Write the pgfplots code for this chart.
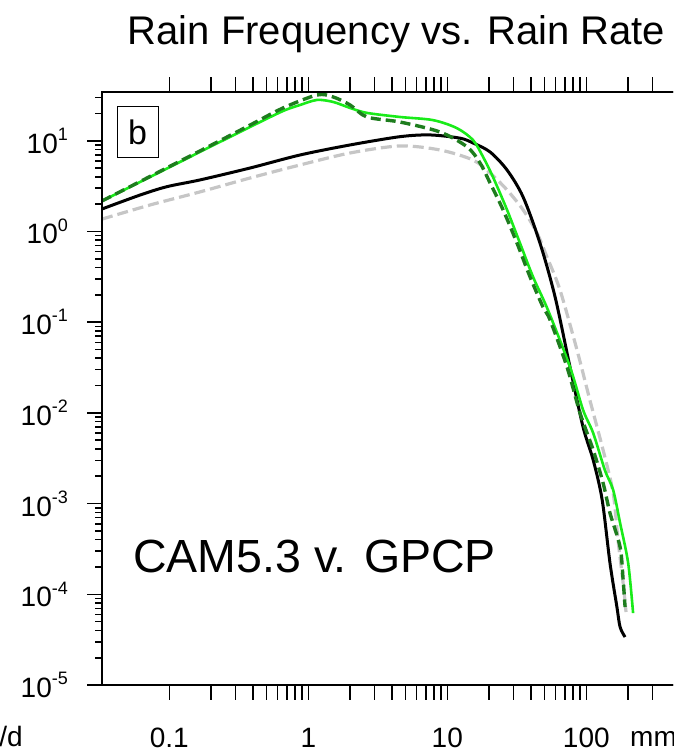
\documentclass[border=0pt]{standalone}
\usepackage{fontspec}
\setmainfont{Liberation Sans}
\usepackage{pgfplots}
\pgfplotsset{compat=1.18}
\definecolor{lgreen}{RGB}{25,235,25}
\definecolor{dgreen}{RGB}{30,125,30}
\definecolor{lgray}{RGB}{198,198,198}
\newcommand{\tickfont}{\fontsize{28}{30}\selectfont}
\newcommand{\supn}[1]{\raisebox{0.45em}{\fontsize{18}{18}\selectfont #1}}

\begin{document}
\begin{tikzpicture}
\useasboundingbox (0pt,0pt) rectangle (673pt,754pt);
\clip (0pt,0pt) rectangle (673pt,754pt);
\begin{axis}[
  at={(102pt,69pt)}, anchor=south west, scale only axis,
  width=581.6pt, height=592.7pt,
  xmode=log, ymode=log,
  xmin=0.0328, xmax=501, ymin=0.00001, ymax=34.25,
  tick align=outside,
  axis line style={line width=2pt},
  tick style={line width=1.6pt, black},
  xtick={0.1,1,10,100},
  xticklabels={0.1,1,10,100},
  minor xtick={0.2,0.3,0.4,0.5,0.6,0.7,0.8,0.9,2,3,4,5,6,7,8,9,20,30,40,50,60,70,80,90,200,300},
  major tick length=15pt, minor tick length=15pt,
  xticklabel style={font=\tickfont, anchor=base, inner sep=0pt, yshift=-48pt},
  ytick=\empty,
  xtick pos=both,
]
\addplot[lgray, line width=3.2pt, dash pattern=on 11pt off 5pt, smooth, tension=0.5] coordinates {
(0.0328,1.37) (0.0727,1.96) (0.166,2.73) (0.381,3.89) (0.871,5.41) (2.0,7.34) (4.57,8.77) (8.86,7.92) (15.3,6.14) (20.3,4.42) (26.9,2.87) (35.1,1.73) (44.2,0.962) (52.1,0.524) (64.7,0.226) (85.7,0.0493) (106,0.0139) (132,0.0039) (156,0.00131) (169,0.000397) (184,0.000133) (193,0.0000638)};
\addplot[black, line width=3pt, smooth, tension=0.5] coordinates {
(0.0328,1.77) (0.0615,2.52) (0.0962,3.12) (0.166,3.70) (0.381,5.01) (0.871,6.97) (2.0,9.0) (4.57,11.1) (7.5,11.6) (12.3,10.7) (15.3,9.46) (20.3,7.53) (26.9,4.76) (35.1,2.40) (46.4,0.746) (59.6,0.190) (76.3,0.0321) (94.7,0.0070) (112,0.00303) (130,0.0011) (148,0.000221) (166,0.0000724) (175,0.0000435) (190,0.0000338)};
\addplot[lgreen, line width=2.6pt, smooth, tension=0.5] coordinates {
(0.0328,2.17) (0.0727,3.99) (0.166,7.53) (0.381,14.2) (0.658,21.3) (0.871,24.8) (1.156,28.2) (1.51,26.8) (2.0,23.0) (2.64,20.3) (4.57,18.3) (7.89,16.9) (11.7,13.8) (15.3,10.2) (18.1,6.62) (21.3,3.99) (26.9,1.73) (33.3,0.746) (41.4,0.315) (53.0,0.136) (76.3,0.0321) (94.7,0.0108) (112,0.0060) (136,0.00234) (156,0.00141) (175,0.00061) (200,0.000221) (217,0.000062)};
\addplot[dgreen, line width=3.4pt, dash pattern=on 10pt off 5pt, smooth, tension=0.5] coordinates {
(0.0328,2.17) (0.166,7.72) (0.381,14.9) (0.658,23.0) (1.156,32.0) (1.51,30.4) (2.0,24.8) (2.64,18.3) (4.57,16.1) (8.86,12.5) (13.9,8.55) (17.2,5.69) (20.3,3.43) (25.2,1.73) (31.7,0.746) (39.4,0.315) (48.8,0.147) (54.8,0.106) (72.6,0.0321) (90.1,0.00998) (112,0.0039) (132,0.00169) (148,0.000787) (175,0.000332) (184,0.000144) (190,0.0000724)};
\end{axis}
\begin{axis}[
  at={(102pt,69pt)}, anchor=south west, scale only axis,
  width=581.6pt, height=592.7pt,
  xmode=log, ymode=log,
  xmin=0.0328, xmax=501, ymin=0.00001, ymax=34.25,
  tick align=outside,
  axis line style={line width=2pt},
  tick style={line width=1.6pt, black},
  xtick=\empty,
  ytick={0.00001,0.0001,0.001,0.01,0.1,1,10},
  yticklabels={10\supn{-5},10\supn{-4},10\supn{-3},10\supn{-2},10\supn{-1},10\supn{0},10\supn{1}},
  minor ytick={0.00002,0.00003,0.00004,0.00005,0.00006,0.00007,0.00008,0.00009,0.0002,0.0003,0.0004,0.0005,0.0006,0.0007,0.0008,0.0009,0.002,0.003,0.004,0.005,0.006,0.007,0.008,0.009,0.02,0.03,0.04,0.05,0.06,0.07,0.08,0.09,0.2,0.3,0.4,0.5,0.6,0.7,0.8,0.9,2,3,4,5,6,7,8,9,20,30},
  major tick length=15pt, minor tick length=7pt,
  ytick pos=left,
  yticklabel style={font=\tickfont, anchor=east, inner sep=0pt, xshift=-19pt},
]
\addplot[draw=none] coordinates {(1,1)};
\end{axis}
\node[anchor=base, font=\fontsize{40}{44}\selectfont] at (396.5pt,709pt) {Rain Frequency vs. Rain Rate};
\node[anchor=base west, inner sep=0pt, font=\fontsize{46.5}{50}\selectfont] at (133pt,181pt) {CAM5.3 v. GPCP};
\node[draw, line width=1pt, minimum width=41pt, minimum height=51pt, inner sep=0pt, font=\fontsize{34}{34}\selectfont] at (137.5pt,621.5pt) {b};
\node[anchor=base west, inner sep=0pt, font=\tickfont] at (630pt,7pt) {mm/d};
\node[anchor=base east, inner sep=0pt, font=\tickfont] at (23pt,7pt) {mm/d};
\end{tikzpicture}
\end{document}
